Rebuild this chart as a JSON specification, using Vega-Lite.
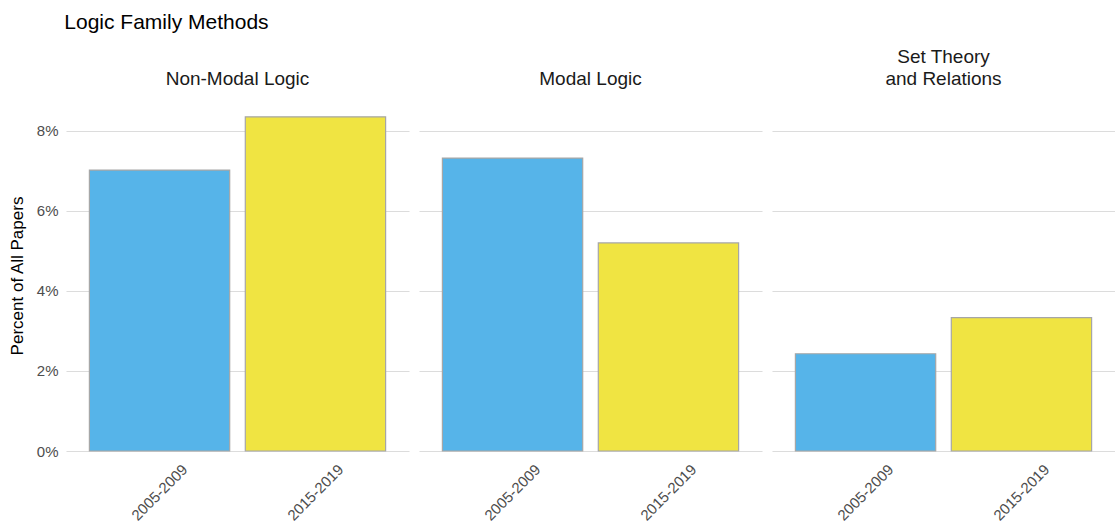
{
  "$schema": "https://vega.github.io/schema/vega-lite/v6.json",
  "background": "white",
  "padding": {"left": 8, "top": 12, "right": 0, "bottom": 0},
  "title": {"text": "Logic Family Methods", "anchor": "start", "fontSize": 21, "font": "Liberation Sans", "fontWeight": "normal", "color": "#000000", "offset": 15, "dx": 56},
  "data": {"values": [
    {"category": "Non-Modal Logic", "period": "2005-2009", "pct": 0.0702},
    {"category": "Non-Modal Logic", "period": "2015-2019", "pct": 0.0835},
    {"category": "Modal Logic", "period": "2005-2009", "pct": 0.0732},
    {"category": "Modal Logic", "period": "2015-2019", "pct": 0.0520},
    {"category": "Set Theory\nand Relations", "period": "2005-2009", "pct": 0.0243},
    {"category": "Set Theory\nand Relations", "period": "2015-2019", "pct": 0.0333}
  ]},
  "facet": {
    "column": {
      "field": "category",
      "type": "nominal",
      "sort": ["Non-Modal Logic", "Modal Logic", "Set Theory\nand Relations"],
      "title": null,
      "header": {
        "labelFontSize": 19,
        "labelFont": "Liberation Sans",
        "labelColor": "#1a1a1a",
        "labelExpr": "split(datum.value, '\\n')",
        "labelLineHeight": 22,
        "labelBaseline": "middle",
        "labelPadding": 2
      }
    }
  },
  "spacing": 10,
  "spec": {
    "width": 343,
    "height": 351,
    "mark": {"type": "bar", "stroke": "#a6a6a6", "strokeWidth": 1.2},
    "encoding": {
      "x": {
        "field": "period",
        "type": "nominal",
        "title": null,
        "scale": {"paddingInner": 0.1, "paddingOuter": 0.15},
        "axis": {"labelAngle": -45, "labelAlign": "center", "labelBaseline": "middle", "labelDx": 3, "labelFontSize": 15, "labelColor": "#4d4d4d", "labelFont": "Liberation Sans", "ticks": false, "domain": false, "labelPadding": 40, "grid": false}
      },
      "y": {
        "field": "pct",
        "type": "quantitative",
        "title": "Percent of All Papers",
        "scale": {"domain": [0, 0.0877], "nice": false},
        "axis": {"values": [0, 0.02, 0.04, 0.06, 0.08], "format": ".0%", "labelFontSize": 15, "labelColor": "#4d4d4d", "labelFont": "Liberation Sans", "titleFont": "Liberation Sans", "titleFontSize": 17, "titleFontWeight": "normal", "titleColor": "#000000", "ticks": false, "domain": false, "labelPadding": 8, "titlePadding": 10, "gridColor": "#dcdcdc", "gridWidth": 1.2}
      },
      "fill": {
        "field": "period",
        "type": "nominal",
        "scale": {"domain": ["2005-2009", "2015-2019"], "range": ["#56B4E9", "#F0E442"]},
        "legend": null
      }
    }
  },
  "config": {
    "view": {"stroke": null},
    "axis": {"gridColor": "#dcdcdc"}
  }
}
